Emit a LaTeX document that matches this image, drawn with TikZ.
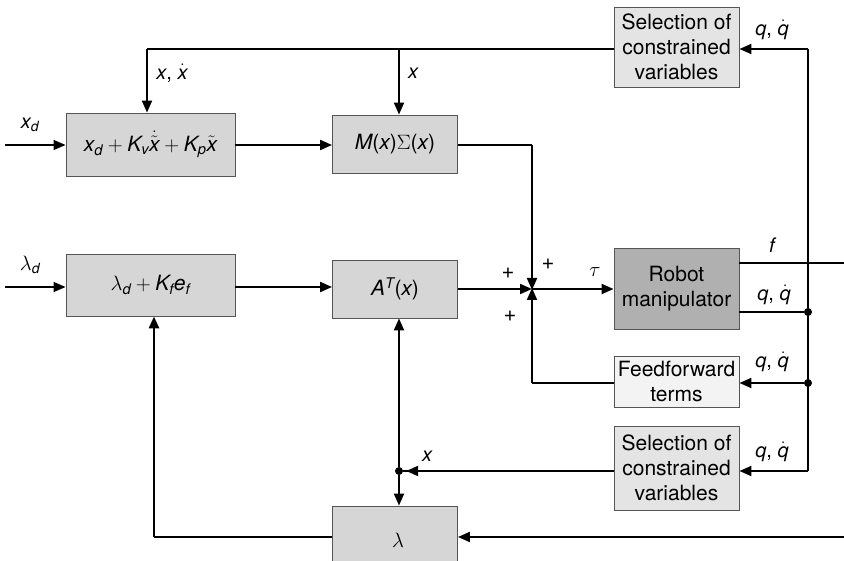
\documentclass[tikz,border=0pt]{standalone}
\usepackage{amsmath}
\usepackage{fontspec}
\setmainfont{TeX Gyre Heros}
\usetikzlibrary{arrows.meta}
\newcommand\sv[1]{\text{\itshape #1}}
\definecolor{boxgray}{HTML}{D6D6D6}
\definecolor{selgray}{HTML}{E4E4E4}
\definecolor{robgray}{HTML}{B0B0B0}
\definecolor{ffgray}{HTML}{F3F3F3}
\definecolor{edge}{HTML}{555555}
\tikzset{
  blk/.style={draw=edge, line width=0.9pt, fill=boxgray, minimum width=#1, inner sep=0pt, align=center, font=\fontsize{21}{25}\selectfont},
  blk/.default=125pt,
  sig/.style={line width=2pt},
  thin sig/.style={line width=1.4pt},
  fat sig/.style={line width=2.8pt},
  arr/.style={-{Triangle[length=12pt,width=10pt]}},
  lbl/.style={font=\fontsize{20}{24}\selectfont, inner sep=0pt},
  pl/.style={font=\fontsize{22}{24}\selectfont, inner sep=0pt},
  dot/.style={circle, fill=black, inner sep=0pt, minimum size=8pt}
}
\begin{document}
\begin{tikzpicture}[x=1pt,y=-1pt]
\useasboundingbox (0,0) rectangle (844,561);
% blocks
\node[blk=169pt, minimum height=63pt] (box1) at (150.5,144.5) {$\sv{x}_{\sv{d}} + \sv{K}_{\sv{v}}\dot{\tilde{\sv{x}}} + \sv{K}_{\sv{p}}\tilde{\sv{x}}$};
\node[blk, minimum height=58pt] (mb) at (395,144) {{\itshape M}({\itshape x})$\Sigma$({\itshape x})};
\node[blk, fill=selgray, minimum height=80pt] (sel1) at (676.5,47) {Selection of\\constrained\\variables};
\node[blk=169pt, minimum height=62pt] (lbox) at (150.5,285) {$\lambda_{\sv{d}} + \sv{K}_{\sv{f}}\sv{e}_{\sv{f}}$};
\node[blk, minimum height=58pt] (ab) at (395,289) {{\itshape A}$^{\sv{T}}$({\itshape x})};
\node[blk, fill=robgray, minimum height=81pt] (rob) at (676.5,288.5) {Robot\\manipulator};
\node[blk, fill=ffgray, minimum height=51pt] (ff) at (676.5,381.5) {Feedforward\\terms};
\node[blk, fill=selgray, minimum height=84pt] (sel2) at (676.5,468) {Selection of\\constrained\\variables};
\node[blk, minimum height=80pt] (lam) at (395,546) {};
\node[lbl] (lamtxt) at (398,540) {$\lambda$};
% coordinates
\coordinate (sum) at (532,289);
\coordinate (xin) at (5,145);
\coordinate (lin) at (5,287);
\coordinate (tl) at (147,49);
\coordinate (tm) at (399,49);
\coordinate (rt) at (808,49);
\coordinate (rq) at (808,312);
\coordinate (rb) at (808,471);
\coordinate (fend) at (844,263);
\coordinate (lamin) at (844,537);
\coordinate (lfb) at (154,537);
\node[dot] (d1) at (808,312) {};
\node[dot] (d2) at (808,383) {};
\node[dot] (d3) at (399,471) {};
% top feedback
\draw[sig] (sel1.west |- tl) -- (tl) ;
\draw[sig,arr] (tl) -- (box1.north -| tl);
\draw[sig,arr] (tm) -- (mb.north -| tm);
\draw[sig,arr] (rt) -- (sel1.east |- rt);
\draw[sig] (rt) -- (rb);
\draw[sig,arr] (rb) -- (sel2.east |- rb);
% inputs
\draw[thin sig,arr] (xin) -- (box1.west |- xin);
\draw[thin sig,arr] (lin) -- (lbox.west |- lin);
\draw[sig,arr] (box1.east |- xin) -- (mb.west |- xin);
\draw[sig,arr] (lbox.east |- lin) -- (ab.west |- lin);
% summing junction
\draw[sig,arr] (ab.east |- sum) -- (sum);
\draw[thin sig] (mb.east |- xin) -- (sum |- xin);
\draw[sig,arr] (sum |- xin) -- ([yshift=-1pt]sum);
\draw[thin sig] (ff.west |- d2) -- (sum |- d2);
\draw[sig,arr] (sum |- d2) -- ([yshift=1pt]sum);
\draw[sig,arr] (sum) -- (rob.west |- sum);
% robot outputs
\draw[fat sig] (rob.east |- fend) -- (fend);
\draw[thin sig] (rob.east |- rq) -- (d1);
\draw[sig,arr] (d2) -- (ff.east |- d2);
% bottom
\draw[sig] (sel2.west |- rb) -- (d3);
\draw[sig,arr] (sel2.west |- rb) -- ([xshift=3pt]d3.east);
\draw[sig,arr] (d3) -- (ab.south -| d3);
\draw[sig,arr] (d3) -- (lam.north -| d3);
\draw[sig,arr] (lamin) -- (lam.east |- lamin);
\draw[fat sig] (lam.west |- lamin) -- (lfb);
\draw[fat sig,arr] (lfb) -- (lbox.south -| lfb);
% labels
\node[lbl] (lxd) at (30,125) {$\sv{x}_{\sv{d}}$};
\node[lbl] (lld) at (30,265) {$\lambda_{\sv{d}}$};
\node[lbl] (lxx) at (172,73) {{\itshape x}, $\dot{\sv{x}}$};
\node[lbl] (lx1) at (413,73) {{\itshape x}};
\node[lbl] (lq1) at (772,30) {{\itshape q}, $\dot{\sv{q}}$};
\node[pl] (p1) at (508,273) {+};
\node[pl] (p2) at (548,264) {+};
\node[pl] (p3) at (510,316) {+};
\node[lbl] (ltau) at (595,272) {$\tau$};
\node[lbl] (lf) at (772,245) {{\itshape f}};
\node[lbl] (lq2) at (774,295) {{\itshape q}, $\dot{\sv{q}}$};
\node[lbl] (lq3) at (772,362) {{\itshape q}, $\dot{\sv{q}}$};
\node[lbl] (lq4) at (772,452) {{\itshape q}, $\dot{\sv{q}}$};
\node[lbl] (lx2) at (427,456) {{\itshape x}};
\end{tikzpicture}
\end{document}
